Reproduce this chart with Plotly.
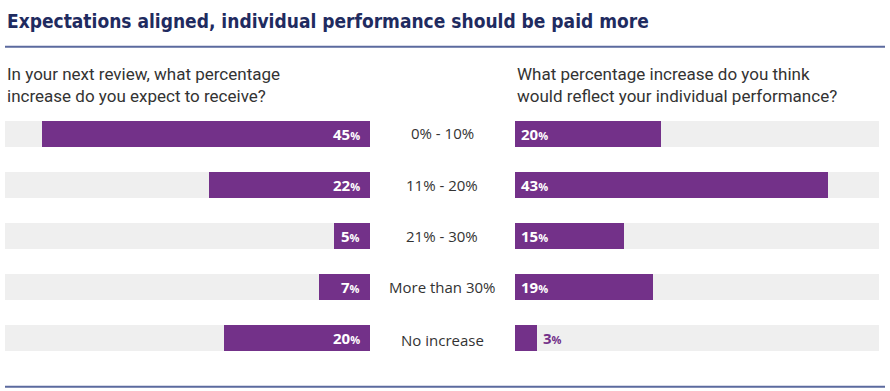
import plotly.graph_objects as go

categories = ["0% - 10%", "11% - 20%", "21% - 30%", "More than 30%", "No increase"]
expected = [45, 22, 5, 7, 20]
deserved = [20, 43, 15, 19, 3]
scale_max = 50

title = "Expectations aligned, individual performance should be paid more"
left_q = "In your next review, what percentage<br>increase do you expect to receive?"
right_q = "What percentage increase do you think<br>would reflect your individual performance?"

PURPLE = "#733189"
GREY = "#efefef"
NAVY = "#1f2b60"
LINE = "#5b6a9e"
W, H = 890, 391

rows = list(range(len(categories)))
row_top_px, pitch_px = 134, 50.9
y_lo = (H - row_top_px) / pitch_px
y_hi = -row_top_px / pitch_px
bw = 26 / pitch_px

fig = go.Figure()
for xa, vals in (("x", expected), ("x2", deserved)):
    fig.add_trace(go.Bar(x=[scale_max] * len(rows), y=rows, orientation="h", xaxis=xa, yaxis="y",
                         marker=dict(color=GREY, line=dict(width=0)), width=bw, hoverinfo="skip",
                         showlegend=False))
    fig.add_trace(go.Bar(x=vals, y=rows, orientation="h", xaxis=xa, yaxis="y",
                         marker=dict(color=PURPLE, line=dict(width=0)), width=bw,
                         showlegend=False))

def lab(v):
    return f"{v}<span style='font-size:11px'>%</span>"

VF = dict(family="Open Sans", size=15, weight="bold")
ann = []
for i, v in enumerate(expected):
    ann.append(dict(x=0, y=i, xref="x", yref="y", text=lab(v), showarrow=False,
                    xanchor="right", xshift=-8, font=dict(VF, color="white")))
for i, v in enumerate(deserved):
    if v >= 8:
        ann.append(dict(x=0, y=i, xref="x2", yref="y", text=lab(v), showarrow=False,
                        xanchor="left", xshift=4, font=dict(VF, color="white")))
    else:
        ann.append(dict(x=v, y=i, xref="x2", yref="y", text=lab(v), showarrow=False,
                        xanchor="left", xshift=4, font=dict(VF, color=PURPLE)))
cat_shift = [1, 0, 0, 0, -2]
for i, c in enumerate(categories):
    ann.append(dict(x=442 / W, y=i, xref="paper", yref="y", text=c, showarrow=False,
                    xanchor="center", yshift=cat_shift[i],
                    font=dict(family="Open Sans", size=15, color="#333333")))

ann.append(dict(x=5 / W, y=1 - 21 / H, xref="paper", yref="paper", text=f"<b>{title}</b>",
                showarrow=False, xanchor="left", yanchor="middle",
                font=dict(family="DejaVu Sans Condensed, Roboto, sans-serif", size=19, color=NAVY)))
ann.append(dict(x=5 / W, y=1 - 85 / H, xref="paper", yref="paper", text=left_q,
                showarrow=False, xanchor="left", yanchor="middle", align="left",
                font=dict(family="Roboto", size=17, color="#333333")))
ann.append(dict(x=515 / W, y=1 - 85 / H, xref="paper", yref="paper", text=right_q,
                showarrow=False, xanchor="left", yanchor="middle", align="left",
                font=dict(family="Roboto", size=17, color="#333333")))

shapes = [
    dict(type="line", xref="paper", yref="paper", x0=5 / W, x1=885 / W, y0=1 - 46.7 / H, y1=1 - 46.7 / H,
         line=dict(color=LINE, width=2)),
    dict(type="line", xref="paper", yref="paper", x0=5 / W, x1=885 / W, y0=1 - 386.7 / H, y1=1 - 386.7 / H,
         line=dict(color=LINE, width=2)),
]

fig.update_layout(
    width=W, height=H, margin=dict(l=0, r=0, t=0, b=0),
    paper_bgcolor="white", plot_bgcolor="rgba(0,0,0,0)",
    barmode="overlay", bargap=0,
    xaxis=dict(domain=[5 / W, 370 / W], range=[scale_max, 0], visible=False, fixedrange=True),
    xaxis2=dict(domain=[515 / W, 879 / W], range=[0, scale_max], visible=False, fixedrange=True),
    yaxis=dict(range=[y_lo, y_hi], visible=False, fixedrange=True),
    annotations=ann, shapes=shapes,
)

fig.write_html("out.html", config={"displayModeBar": False},
               post_script="document.body.style.margin='0';document.body.style.overflow='hidden';")
